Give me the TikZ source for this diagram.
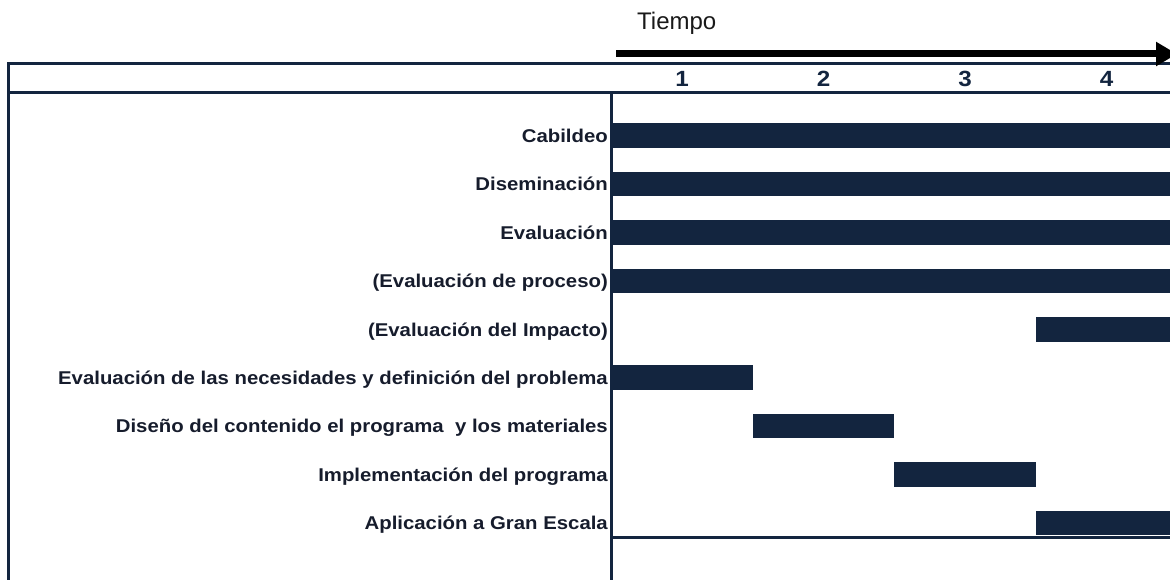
\documentclass[tikz,border=0pt]{standalone}
\usepackage{fontspec}
\setmainfont{Liberation Sans}
\newfontfamily\labfont{Liberation Sans}[UprightFont={* Bold},FakeStretch=1.1]
\newfontfamily\numfont{Liberation Sans}[UprightFont={* Bold},FakeStretch=1.1]
\usetikzlibrary{arrows.meta}
\definecolor{navy}{HTML}{13253F}
\definecolor{labcol}{HTML}{161C2C}
\tikzset{
  frame/.style={draw=navy,line width=3pt},
  barbox/.style={fill=navy,draw=none,inner sep=0pt,minimum height=24.5pt,anchor=west},
  lab/.style={anchor=base east,inner sep=0pt,text=labcol,font=\labfont\fontsize{18.5}{21}\selectfont},
  num/.style={anchor=base,inner sep=0pt,text=navy,font=\numfont\fontsize{22}{25}\selectfont},
  timelab/.style={anchor=base west,inner sep=0pt,text=black!90,font=\fontsize{24}{28}\selectfont},
  timearrow/.style={draw=black,line width=7pt,-{Triangle[length=21pt,width=23pt]}}
}
\begin{document}
\begin{tikzpicture}[x=1pt,y=-1pt]
\useasboundingbox (0,0) rectangle (1170,580);
% frame
\coordinate (tl) at (8,64);
\coordinate (tr) at (1185,64);
\coordinate (hl) at (8,93);
\coordinate (hr) at (1185,93);
\coordinate (bl) at (8,590);
\coordinate (dv) at (611,93);
\coordinate (db) at (611,590);
\coordinate (bt) at (611,537);
\coordinate (br) at (1185,537);
\draw[frame] (tr) -- (tl) -- (bl);
\draw[frame] (hl) -- (hr);
\draw[frame] (dv) -- (db);
\draw[frame] (bt) -- (br);
% time arrow
\node[timelab] (tiempo) at (637,30) {Tiempo};
\coordinate (ta) at (616,54);
\coordinate (tb) at (1177,54);
\draw[timearrow] (ta) -- (tb);
% column numbers
\node[num] (n1) at (682,86.7) {1};
\node[num] (n2) at (823.5,86.7) {2};
\node[num] (n3) at (965,86.7) {3};
\node[num] (n4) at (1106.5,86.7) {4};
% rows
\node[lab] (l1) at (608,142.3) {Cabildeo};
\node[lab] (l2) at (608,190.7) {Diseminación};
\node[lab] (l3) at (608,239.2) {Evaluación};
\node[lab] (l4) at (608,287.6) {(Evaluación de proceso)};
\node[lab] (l5) at (608,336.0) {(Evaluación del Impacto)};
\node[lab] (l6) at (608,384.5) {Evaluación de las necesidades y definición del problema};
\node[lab] (l7) at (608,432.9) {Diseño del contenido el programa\ \ y los materiales};
\node[lab] (l8) at (608,481.4) {Implementación del programa};
\node[lab] (l9) at (608,529.8) {Aplicación a Gran Escala};
% bars
\node[barbox,minimum width=575pt] (b1) at (611,135.5) {};
\node[barbox,minimum width=575pt] (b2) at (611,184.0) {};
\node[barbox,minimum width=575pt] (b3) at (611,232.4) {};
\node[barbox,minimum width=575pt] (b4) at (611,280.8) {};
\node[barbox,minimum width=150pt] (b5) at (1035.5,329.3) {};
\node[barbox,minimum width=141.7pt] (b6) at (611,377.7) {};
\node[barbox,minimum width=141.5pt] (b7) at (752.7,426.1) {};
\node[barbox,minimum width=141.5pt] (b8) at (894.2,474.6) {};
\node[barbox,minimum width=150pt] (b9) at (1035.5,523.0) {};
\end{tikzpicture}
\end{document}
